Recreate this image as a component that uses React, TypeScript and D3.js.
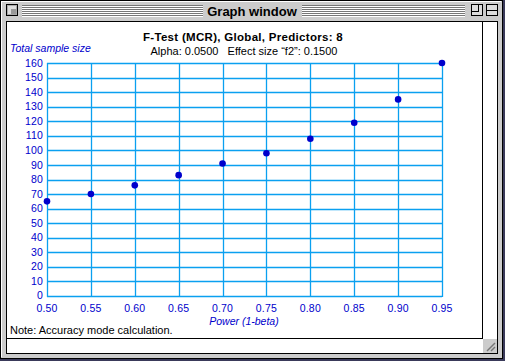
import React from "react";
import * as d3 from "d3";

const powers = [0.5, 0.55, 0.6, 0.65, 0.7, 0.75, 0.8, 0.85, 0.9, 0.95];
const sampleSizes = [65, 70, 76, 83, 91, 98, 108, 119, 135, 160];
const yTicks = [0, 10, 20, 30, 40, 50, 60, 70, 80, 90, 100, 110, 120, 130, 140, 150, 160];
const xTicks = [0.5, 0.55, 0.6, 0.65, 0.7, 0.75, 0.8, 0.85, 0.9, 0.95];

const W = 505;
const H = 361;
const FONT = "'Liberation Sans', Arial, sans-serif";
const GRID = "#0aa0f0";
const BLUE = "#0000cc";

export default function App() {
  const x = d3.scaleLinear().domain([0.5, 0.95]).range([47, 442]);
  const y = d3.scaleLinear().domain([0, 160]).range([296, 63]);
  const stripesY = [5, 7, 9, 11, 13, 15];
  return (
    <div style={{ position: "fixed", left: 0, top: 0 }}>
      <svg width={W} height={H} style={{ display: "block" }}>
        {/* window frame */}
        <rect x={0} y={0} width={W} height={H} fill="#3a3a5a" />
        <rect x={0.5} y={0.5} width={W - 3} height={H - 3} fill="#cccccc" stroke="#000" />
        <line x1={1} y1={1.5} x2={W - 4} y2={1.5} stroke="#fff" />
        <line x1={1.5} y1={1} x2={1.5} y2={H - 4} stroke="#fff" />
        {/* title bar stripes */}
        {stripesY.map((sy) => (
          <g key={sy}>
            <line x1={22} x2={203} y1={sy + 0.5} y2={sy + 0.5} stroke="#777" />
            <line x1={22} x2={203} y1={sy + 1.5} y2={sy + 1.5} stroke="#fff" />
            <line x1={302} x2={465} y1={sy + 0.5} y2={sy + 0.5} stroke="#777" />
            <line x1={302} x2={465} y1={sy + 1.5} y2={sy + 1.5} stroke="#fff" />
          </g>
        ))}
        <text x={252} y={16} textAnchor="middle" fontFamily={FONT} fontWeight="bold" fontSize={13} fill="#000">
          Graph window
        </text>
        {/* close box */}
        <rect x={6.5} y={4.5} width={11} height={11} fill="#aaa" stroke="#000" />
        <rect x={8} y={6} width={8} height={8} fill="#ddd" />
        <rect x={11} y={9} width={5} height={5} fill="#999" />
        {/* zoom box */}
        <rect x={471.5} y={4.5} width={11} height={11} fill="#ddd" stroke="#000" />
        <rect x={471.5} y={4.5} width={7} height={7} fill="none" stroke="#000" />
        {/* collapse box */}
        <rect x={486.5} y={4.5} width={11} height={11} fill="#ddd" stroke="#000" />
        <line x1={487} x2={498} y1={10.5} y2={10.5} stroke="#000" />
        {/* content area */}
        <rect x={6.5} y={21.5} width={491} height={332} fill="#fff" stroke="#000" />
        <line x1={482.5} x2={482.5} y1={22} y2={339} stroke="#000" />
        <line x1={7} x2={483} y1={338.5} y2={338.5} stroke="#000" />
        {/* grow box */}
        <rect x={483} y={339} width={14} height={14} fill="#ccc" />
        {[0, 4, 8].map((o) => (
          <line key={o} x1={487 + o} y1={351} x2={495} y2={343 + o} stroke="#777" strokeWidth={1.5} />
        ))}

        {/* titles */}
        <text x={243} y={41} textAnchor="middle" fontFamily={FONT} fontWeight="bold" fontSize={11.5} fill="#000" letterSpacing={0.3}>
          F-Test (MCR), Global, Predictors: 8
        </text>
        <text x={244} y={55} textAnchor="middle" fontFamily={FONT} fontSize={11} fill="#000" xmlSpace="preserve">
          {"Alpha: 0.0500   Effect size \u201cf2\u201d: 0.1500"}
        </text>
        <text x={10} y={52} fontFamily={FONT} fontStyle="italic" fontSize={10.5} fill={BLUE}>
          Total sample size
        </text>

        {/* grid */}
        {yTicks.map((t) => (
          <line key={"h" + t} x1={x(0.5)} x2={x(0.95)} y1={Math.round(y(t)) + 0.5} y2={Math.round(y(t)) + 0.5} stroke={GRID} strokeWidth={1.3} />
        ))}
        {xTicks.map((t) => (
          <line key={"v" + t} x1={Math.round(x(t)) + 0.5} x2={Math.round(x(t)) + 0.5} y1={y(160)} y2={y(0) + 1} stroke={GRID} strokeWidth={1.3} />
        ))}

        {/* y tick labels */}
        {yTicks.map((t) => (
          <text key={"yl" + t} x={43} y={y(t) + (t === 0 ? 2.8 : 3.6)} textAnchor="end" fontFamily={FONT} fontSize={10.5} fill={BLUE} letterSpacing={0.2}>
            {t}
          </text>
        ))}
        {/* x tick labels */}
        {xTicks.map((t) => (
          <text key={"xl" + t} x={x(t)} y={312} textAnchor="middle" fontFamily={FONT} fontSize={10.5} fill={BLUE} letterSpacing={0.2}>
            {d3.format(".2f")(t)}
          </text>
        ))}
        <text x={244} y={325} textAnchor="middle" fontFamily={FONT} fontStyle="italic" fontSize={10.5} fill={BLUE}>
          Power (1-beta)
        </text>

        {/* points */}
        {powers.map((p, i) => (
          <circle key={p} cx={x(p)} cy={y(sampleSizes[i])} r={3.3} fill={BLUE} />
        ))}

        <text x={10} y={334} fontFamily={FONT} fontSize={11} fill="#000">
          Note: Accuracy mode calculation.
        </text>
      </svg>
    </div>
  );
}
